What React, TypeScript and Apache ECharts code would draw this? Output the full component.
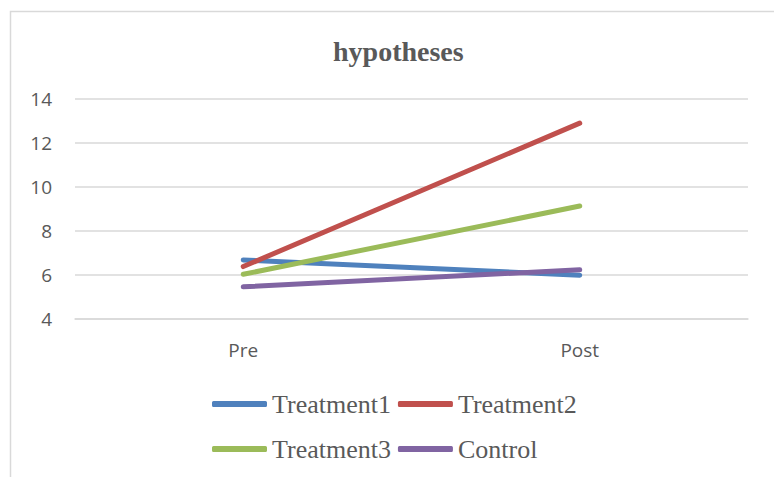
import React, { useEffect, useRef } from "react";
import * as echarts from "echarts";

const categories = ["Pre", "Post"];
const treatment1 = [6.67, 5.98];
const treatment2 = [6.37, 12.89];
const treatment3 = [6.02, 9.12];
const control = [5.45, 6.22];
const yTicks = { min: 4, max: 14, interval: 2 };

const colors = ["#4f81bd", "#c0504d", "#9bbb59", "#8064a2"];
const names = ["Treatment1", "Treatment2", "Treatment3", "Control"];
const values = [treatment1, treatment2, treatment3, control];

function makeLegend(top: number, data: string[]) {
  return {
    orient: "horizontal",
    left: 207,
    top,
    itemWidth: 55,
    itemHeight: 6,
    itemGap: 7,
    icon: "roundRect",
    selectedMode: false,
    textStyle: {
      fontFamily: "Liberation Serif",
      fontSize: 26,
      color: "#595959",
    },
    data: data.map((n) => ({
      name: n,
      textStyle: { fontFamily: "Liberation Serif", fontSize: 26, color: "#595959" },
    })),
  };
}

export default function App() {
  const ref = useRef<HTMLDivElement>(null);
  useEffect(() => {
    if (!ref.current) return;
    const chart = echarts.init(ref.current, undefined, { renderer: "svg" });
    chart.setOption({
      animation: false,
      backgroundColor: "#ffffff",
      title: {
        text: "hypotheses",
        left: 328,
        top: 32,
        textStyle: {
          fontFamily: "Liberation Serif",
          fontWeight: "bold",
          fontSize: 28,
          color: "#595959",
        },
      },
      graphic: [
        {
          type: "rect",
          shape: { x: 10.5, y: 11.5, width: 900, height: 600 },
          style: { fill: "none", stroke: "#d9d9d9", lineWidth: 1.5 },
          silent: true,
        },
      ],
      legend: [
        makeLegend(386, [names[0], names[1]]),
        makeLegend(431, [names[2], names[3]]),
      ],
      grid: { left: 75, right: 26, top: 98.7, bottom: 158.3 },
      xAxis: {
        type: "category",
        data: categories,
        boundaryGap: true,
        axisLine: { show: true, lineStyle: { color: "#d9d9d9", width: 1.5 } },
        axisTick: { show: false },
        axisLabel: {
          margin: 22,
          fontFamily: "Open Sans",
          fontSize: 19,
          color: "#595959",
        },
      },
      yAxis: {
        type: "value",
        min: yTicks.min,
        max: yTicks.max,
        interval: yTicks.interval,
        axisLine: { show: false },
        axisTick: { show: false },
        splitLine: { lineStyle: { color: "#d9d9d9", width: 1.5 } },
        axisLabel: {
          margin: 23,
          fontFamily: "Open Sans",
          fontSize: 19,
          color: "#595959",
        },
      },
      series: values.map((v, i) => ({
        name: names[i],
        type: "line",
        data: v,
        symbol: "none",
        showSymbol: false,
        itemStyle: { color: colors[i] },
        lineStyle: { color: colors[i], width: 5, cap: "round" },
      })),
    });
    return () => chart.dispose();
  }, []);
  return (
    <div
      ref={ref}
      style={{ position: "fixed", left: 0, top: 0, width: 774, height: 477 }}
    />
  );
}
